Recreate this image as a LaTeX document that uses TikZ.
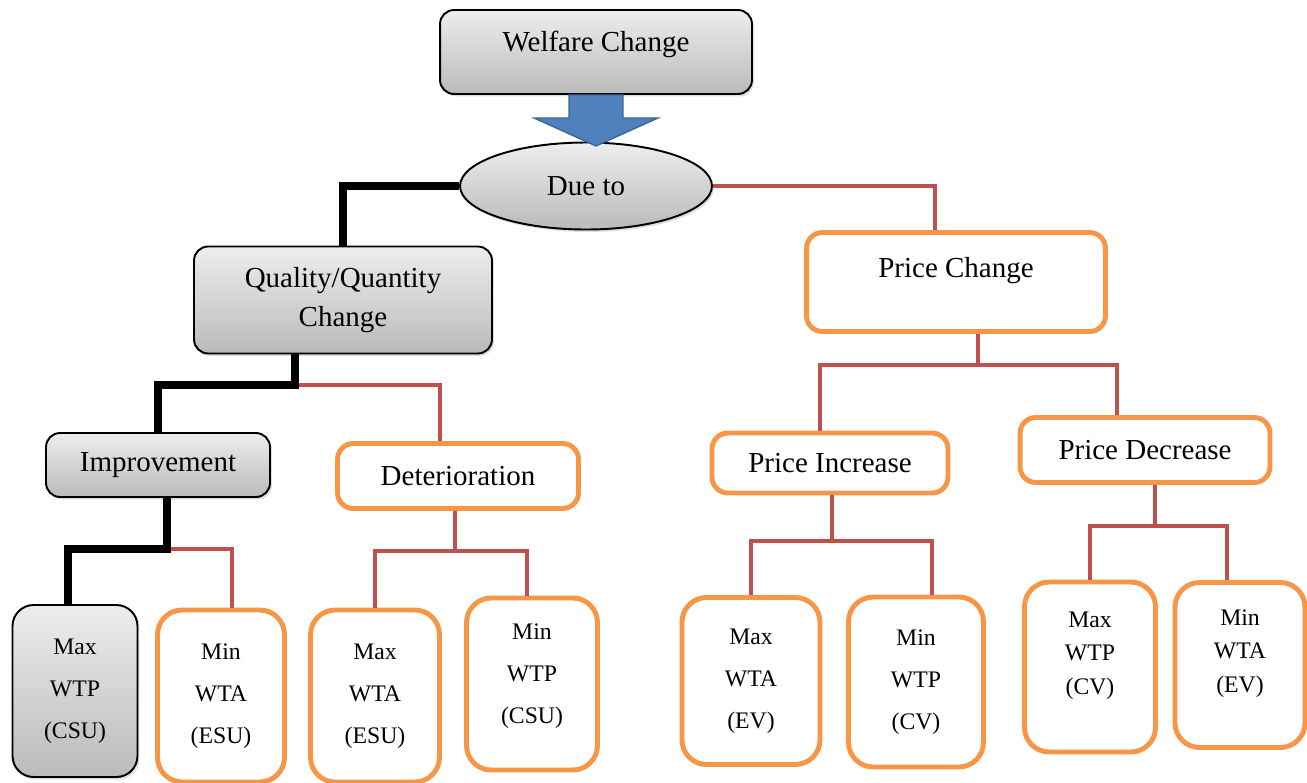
\documentclass[tikz,border=0pt]{standalone}
\usepackage{fontspec}
\setmainfont{Liberation Serif}
\usepackage{tikz}
\usetikzlibrary{shapes.geometric,shadows}

\definecolor{boxorange}{HTML}{F79646}
\definecolor{linkred}{HTML}{C0504D}
\definecolor{arrowblue}{HTML}{4F81BD}
\definecolor{arrowedge}{HTML}{3A6796}

\begin{document}
\begin{tikzpicture}[x=0.02cm, y=-0.02cm,
  graybox/.style={draw=black, line width=1.1pt, rounded corners=8pt,
    top color=black!7, bottom color=black!27, align=center,
    font=\fontsize{16.5}{22}\selectfont,
    drop shadow={opacity=0.25, shadow xshift=0.04cm, shadow yshift=-0.05cm}},
  orangebox/.style={draw=boxorange, line width=2.8pt, fill=white, rounded corners=9pt,
    align=center, font=\fontsize{16.5}{22}\selectfont},
  grayleaf/.style={graybox, rounded corners=12pt, font=\fontsize{13.5}{24}\selectfont},
  orangeleaf/.style={orangebox, rounded corners=14pt, font=\fontsize{13.5}{24}\selectfont},
  blk/.style={draw=black, line width=4.5pt},
  redl/.style={draw=linkred, line width=2.3pt}
]
  \useasboundingbox (0,0) rectangle (1307,782);

  \node[graybox, minimum width=6.24cm, minimum height=1.68cm, text depth=12pt] (welfare) at (596,52) {Welfare Change};
  \node[graybox, ellipse, inner sep=0pt, minimum width=5.04cm, minimum height=1.74cm] (dueto) at (586,186) {Due to};
  \node[graybox, minimum width=5.96cm, minimum height=2.14cm] (qq) at (343,300) {Quality/Quantity\\Change};
  \node[orangebox, minimum width=5.98cm, minimum height=1.98cm, text depth=17pt] (price) at (956,282) {Price Change};
  \node[graybox, minimum width=4.48cm, minimum height=1.28cm] (improve) at (158,465) {Improvement};
  \node[orangebox, minimum width=4.82cm, minimum height=1.3cm] (deter) at (458,476) {Deterioration};
  \node[orangebox, minimum width=4.72cm, minimum height=1.2cm] (pinc) at (830,463) {Price Increase};
  \node[orangebox, minimum width=5.0cm, minimum height=1.3cm] (pdec) at (1145,450) {Price Decrease};

  \node[grayleaf, minimum width=2.5cm, minimum height=3.44cm] (maxwtpcsu) at (75,691) {Max\\WTP\\(CSU)};
  \node[orangeleaf, minimum width=2.54cm, minimum height=3.44cm] (minwtaesu) at (221,696) {Min\\WTA\\(ESU)};
  \node[orangeleaf, minimum width=2.58cm, minimum height=3.44cm] (maxwtaesu) at (375,696) {Max\\WTA\\(ESU)};
  \node[orangeleaf, minimum width=2.62cm, minimum height=3.44cm, text depth=12pt] (minwtpcsu) at (532,684) {Min\\WTP\\(CSU)};
  \node[orangeleaf, minimum width=2.76cm, minimum height=3.34cm] (maxwtaev) at (751,681) {Max\\WTA\\(EV)};
  \node[orangeleaf, minimum width=2.7cm, minimum height=3.4cm] (minwtpcv) at (916,682) {Min\\WTP\\(CV)};
  \node[orangeleaf, minimum width=2.62cm, minimum height=3.4cm, font=\fontsize{13.5}{19}\selectfont, text depth=16pt] (maxwtpcv) at (1090,667) {Max\\WTP\\(CV)};
  \node[orangeleaf, minimum width=2.6cm, minimum height=3.3cm, font=\fontsize{13.5}{19}\selectfont, text depth=16pt] (minwtaev) at (1240,665) {Min\\WTA\\(EV)};

  \coordinate (qqbar) at (295,385);
  \coordinate (impbar) at (167,549);
  \coordinate (detbar) at (455,551);
  \coordinate (pricebar) at (978,365);
  \coordinate (pincbar) at (832,541);
  \coordinate (pdecbar) at (1155,526);

  \draw[blk] (dueto.west) -| (qq.north);
  \draw[redl] (dueto.east) -| ([xshift=-0.42cm]price.north);

  \draw[redl] (qqbar) -| ([xshift=-0.36cm]deter.north);
  \draw[blk] (qqbar |- qq.south) -- (qqbar) -| (improve.north);

  \draw[redl] (impbar) -| ([xshift=0.22cm]minwtaesu.north);
  \draw[blk] (impbar |- improve.south) -- (impbar) -| ([xshift=-0.14cm]maxwtpcsu.north);

  \draw[redl] (detbar |- deter.south) -- (detbar) -| (maxwtaesu.north);
  \draw[redl] (detbar) -| ([xshift=-0.1cm]minwtpcsu.north);

  \draw[redl] (pricebar |- price.south) -- (pricebar) -| ([xshift=-0.2cm]pinc.north);
  \draw[redl] (pricebar) -| ([xshift=-0.56cm]pdec.north);

  \draw[redl] (pincbar |- pinc.south) -- (pincbar) -| (maxwtaev.north);
  \draw[redl] (pincbar) -| ([xshift=0.32cm]minwtpcv.north);

  \draw[redl] (pdecbar |- pdec.south) -- (pdecbar) -| (maxwtpcv.north);
  \draw[redl] (pdecbar) -| ([xshift=-0.26cm]minwtaev.north);

  \draw[arrowedge, line width=0.8pt, fill=arrowblue, line join=miter]
    ([xshift=-0.54cm]welfare.south) -- ++(0cm,-0.46cm) -- ++(-0.7cm,0cm)
    -- ++(1.24cm,-0.56cm) -- ++(1.24cm,0.56cm) -- ++(-0.7cm,0cm) -- ++(0cm,0.46cm) -- cycle;
\end{tikzpicture}
\end{document}
